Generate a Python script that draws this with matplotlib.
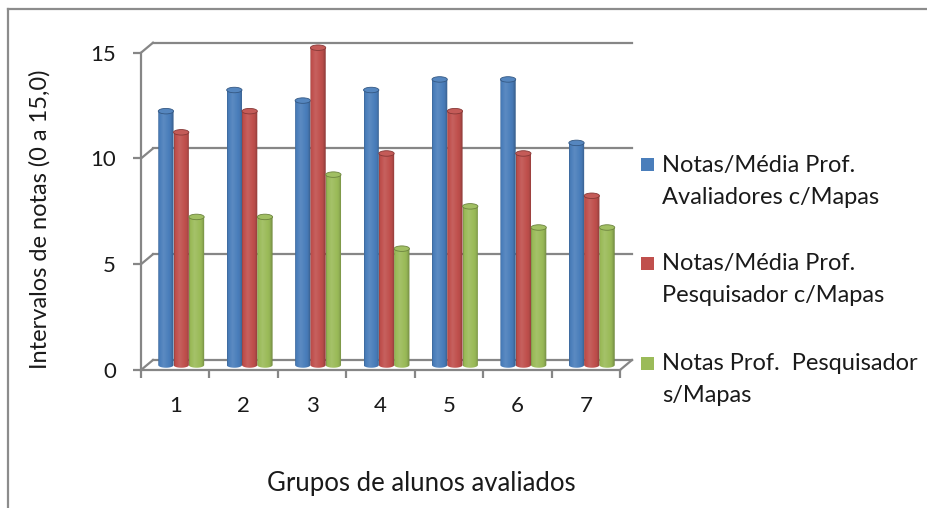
import numpy as np
import matplotlib
matplotlib.use("Agg")
import matplotlib.pyplot as plt
from matplotlib.patches import Polygon, Ellipse, Rectangle
from matplotlib.lines import Line2D
from matplotlib.colors import to_rgb

plt.rcParams['font.family'] = ['Lato', 'DejaVu Sans']
plt.rcParams['font.size'] = 16

groups = ['1', '2', '3', '4', '5', '6', '7']
series_names = ['Notas/Média Prof.\nAvaliadores c/Mapas',
                'Notas/Média Prof.\nPesquisador c/Mapas',
                'Notas Prof.  Pesquisador\ns/Mapas']
avaliadores_c_mapas = [12, 13, 12.5, 13, 13.5, 13.5, 10.5]
pesquisador_c_mapas = [11, 12, 15, 10, 12, 10, 8]
pesquisador_s_mapas = [7, 7, 9, 5.5, 7.5, 6.5, 6.5]
y_ticks = [0, 5, 10, 15]

series = [avaliadores_c_mapas, pesquisador_c_mapas, pesquisador_s_mapas]
colors = ['#4a7ebb', '#c0504d', '#9bbb59']
grid_color = '#868686'
text_color = '#1a1a1a'

W, H = 928, 508
fig = plt.figure(figsize=(W / 100, H / 100), dpi=100)

# plot box in pixels (front plane: x 141..620, y 0 -> 370px, 15 -> 52.7px)
L, R, T, B = 141, 641, 28, 370
px_x = 479 / 7
px_y = (370 - 52.7) / 15
ax = fig.add_axes([L / W, 1 - B / H, (R - L) / W, (B - T) / H])

# depth of the 3d box
dx = 12 / px_x
dy = 10 / px_y
lw = 1.6

# back wall gridlines and left side connectors
for v in y_ticks:
    ax.add_line(Line2D([-0.5 + dx, 6.5 + dx], [v + dy, v + dy], color=grid_color, lw=lw, clip_on=False))
    ax.add_line(Line2D([-0.5, -0.5 + dx], [v, v + dy], color=grid_color, lw=lw, clip_on=False))
ax.add_line(Line2D([6.5, 6.5 + dx], [0, dy], color=grid_color, lw=lw, clip_on=False))

# axes: front left and front floor
for s in ['top', 'right']:
    ax.spines[s].set_visible(False)
for s in ['left', 'bottom']:
    ax.spines[s].set_color(grid_color)
    ax.spines[s].set_linewidth(lw)
ax.spines['left'].set_bounds(0, 15)
ax.spines['bottom'].set_bounds(-0.5, 6.5)
ax.set_yticks(y_ticks)
ax.tick_params(axis='y', length=6, width=lw, color=grid_color, pad=12, labelcolor=text_color)
ax.set_xticks(range(len(groups)))
ax.set_xticklabels(groups)
ax.set_xticks(np.arange(-0.5, 7, 1), minor=True)
ax.tick_params(axis='x', which='major', length=0, pad=19, labelcolor=text_color)
ax.tick_params(axis='x', which='minor', length=6, width=lw, color=grid_color)


def shade(rgb, s):
    rgb = np.array(rgb)
    if s >= 0:
        return rgb + (1 - rgb) * s
    return rgb * (1 + s)


# cylinder shading across a bar
t_prof = [0, 0.06, 0.35, 0.8, 1]
s_prof = [-0.22, -0.03, 0.1, -0.04, -0.28]
tt = np.linspace(0, 1, 64)
ss = np.interp(tt, t_prof, s_prof)

bw = 15.3 / px_x
ox, oy = dx / 2, dy / 2
eh = 5.5 / px_y

for k, (vals, col) in enumerate(zip(series, colors)):
    base = to_rgb(col)
    grad = np.array([[shade(base, s) for s in ss]])
    for i, v in enumerate(vals):
        xc = i + ox + (k - 1) * bw
        x0, x1 = xc - bw / 2, xc + bw / 2
        y0, y1 = oy, v + oy
        th = np.linspace(np.pi, 2 * np.pi, 30)
        bottom = np.column_stack([xc + bw / 2 * np.cos(th), y0 + eh / 2 * np.sin(th)])
        outline = np.vstack([[x0, y1], bottom, [x1, y1]])
        body = Polygon(outline, closed=True, transform=ax.transData)
        im = ax.imshow(grad, extent=[x0, x1, y0 - eh / 2, y1], aspect='auto',
                       interpolation='bilinear', zorder=3 + i * 0.1 + k * 0.01)
        im.set_clip_path(body)
        ax.add_patch(Ellipse((xc, y1), bw, eh, facecolor=shade(base, 0.06),
                             edgecolor=shade(base, -0.3), lw=0.6,
                             zorder=3 + i * 0.1 + k * 0.01 + 0.005))

ax.set_xlim(-0.5, -0.5 + (R - L) / px_x)
ax.set_ylim(0, (B - T) / px_y)

# legend
base_lines = [171.7, 270, 370]
for name, col, yb in zip(series_names, colors, base_lines):
    fig.add_artist(Rectangle((641 / W, 1 - (yb - 0.5) / H), 13 / W, 13 / H,
                             transform=fig.transFigure, facecolor=col, edgecolor='none'))
    for j, line in enumerate(name.split('\n')):
        fig.text(662 / W, 1 - (yb + 32 * j) / H, line, va='baseline', ha='left',
                 color=text_color, fontsize=17)

# axis titles
fig.text(40 / W, 1 - 219 / H, 'Intervalos de notas (0 a 15,0)', rotation=90,
         ha='center', va='center', color=text_color, fontsize=17)
fig.text(421 / W, 1 - 483 / H, 'Grupos de alunos avaliados', ha='center', va='center',
         color=text_color, fontsize=18.5)

# chart frame
fig.add_artist(Line2D([8 / W, 1], [1 - 9 / H, 1 - 9 / H], color='#8c8c8c', lw=1.6, transform=fig.transFigure))
fig.add_artist(Line2D([8 / W, 8 / W], [0, 1 - 9 / H], color='#8c8c8c', lw=1.6, transform=fig.transFigure))

fig.savefig('out.png', dpi=100)
